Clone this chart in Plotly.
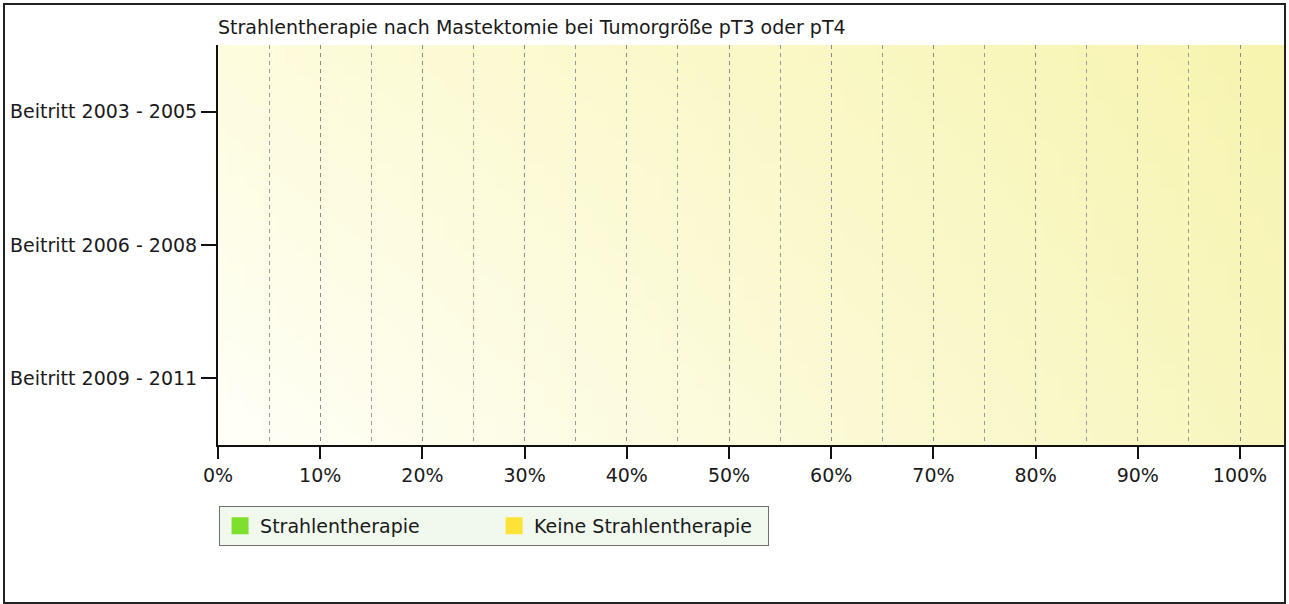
import base64
import struct
import zlib

import plotly.graph_objects as go

# ---------------- data ----------------
categories = ["Beitritt 2003 - 2005", "Beitritt 2006 - 2008", "Beitritt 2009 - 2011"]
series_names = ["Strahlentherapie", "Keine Strahlentherapie"]
# the reference chart shows no bars: no values for any period
strahlentherapie = [None, None, None]
keine_strahlentherapie = [None, None, None]
title_text = "Strahlentherapie nach Mastektomie bei Tumorgröße pT3 oder pT4"

# ---------------- style ----------------
W, H = 1289, 604
ML, MR, MT, MB = 218, 5, 45, 159
FONT = "DejaVu Sans"
FS = 19


def gradient_png(w, h):
    # bilinear gradient: corners (tl, tr, bl, br)
    tl = (253, 252, 222)
    tr = (247, 244, 176)
    bl = (255, 255, 248)
    br = (248, 246, 190)
    rows = []
    for j in range(h):
        v = j / (h - 1)
        row = bytearray(b"\x00")
        for i in range(w):
            u = i / (w - 1)
            px = []
            for c in range(3):
                top = tl[c] * (1 - u) + tr[c] * u
                bot = bl[c] * (1 - u) + br[c] * u
                px.append(int(round(top * (1 - v) + bot * v)))
            row += bytes(px)
        rows.append(bytes(row))
    raw = b"".join(rows)

    def chunk(t, d):
        c = struct.pack(">I", len(d)) + t + d
        return c + struct.pack(">I", zlib.crc32(t + d) & 0xFFFFFFFF)

    png = b"\x89PNG\r\n\x1a\n"
    png += chunk(b"IHDR", struct.pack(">IIBBBBB", w, h, 8, 2, 0, 0, 0))
    png += chunk(b"IDAT", zlib.compress(raw, 9))
    png += chunk(b"IEND", b"")
    return "data:image/png;base64," + base64.b64encode(png).decode()


fig = go.Figure()
fig.add_trace(go.Bar(
    y=categories, x=strahlentherapie, name=series_names[0], orientation="h",
    marker=dict(color="#7EE02C", line=dict(width=5, color="#7EE02C")),
))
fig.add_trace(go.Bar(
    y=categories, x=keine_strahlentherapie, name=series_names[1], orientation="h",
    marker=dict(color="#FFE236", line=dict(width=5, color="#FFE236")),
))

pw = W - ML - MR
ph = H - MT - MB

fig.update_layout(
    width=W, height=H,
    margin=dict(l=ML, r=MR, t=MT, b=MB, pad=0),
    barmode="stack",
    paper_bgcolor="white",
    plot_bgcolor="rgba(0,0,0,0)",
    font=dict(family=FONT, size=FS, color="#1a1a1a"),
    title=dict(text=title_text, x=0, xref="paper", xanchor="left",
               y=1 - 27 / H, yref="container", yanchor="middle",
               font=dict(family=FONT, size=FS, color="#1a1a1a")),
    showlegend=True,
    legend=dict(orientation="h", x=0.001, xref="paper", xanchor="left",
                y=1 - 506 / H, yref="container", yanchor="top",
                bgcolor="#F1F9EF", bordercolor="#6f6f6f", borderwidth=1,
                entrywidth=229, entrywidthmode="pixels",
                font=dict(family=FONT, size=FS, color="#1a1a1a"),
                traceorder="normal"),
    xaxis=dict(range=[0, (pw) / 10.22], dtick=10, tick0=0, ticksuffix="%",
               showgrid=True, gridcolor="#8a8a8a", griddash="4px,4px", gridwidth=1,
               minor=dict(dtick=5, showgrid=True, gridcolor="#9a9a9a",
                          griddash="4px,4px", gridwidth=1, ticks=""),
               showline=True, linecolor="#111", linewidth=2,
               ticks="outside", ticklen=12, tickwidth=2, tickcolor="#111",
               zeroline=False, fixedrange=True),
    yaxis=dict(type="category", categoryorder="array", categoryarray=categories,
               range=[2.5, -0.5], showgrid=False,
               showline=True, linecolor="#111", linewidth=2,
               ticks="outside", ticklen=15, tickwidth=2, tickcolor="#111",
               zeroline=False, fixedrange=True),
    images=[dict(source=gradient_png(64, 32), xref="paper", yref="paper",
                 x=0, y=1, sizex=1, sizey=1, xanchor="left", yanchor="top",
                 sizing="stretch", layer="below")],
    shapes=[dict(type="rect", xref="paper", yref="paper",
                 x0=(4 - ML) / pw, x1=(1285 - ML) / pw,
                 y0=(H - MB - 603) / ph, y1=1 + (MT - 4) / ph,
                 line=dict(color="#222", width=2), fillcolor="rgba(0,0,0,0)",
                 layer="above")],
)

fig.write_html("out.html",
               config={"displayModeBar": False, "staticPlot": True},
               post_script="document.body.style.margin='0';document.body.style.overflow='hidden';")
